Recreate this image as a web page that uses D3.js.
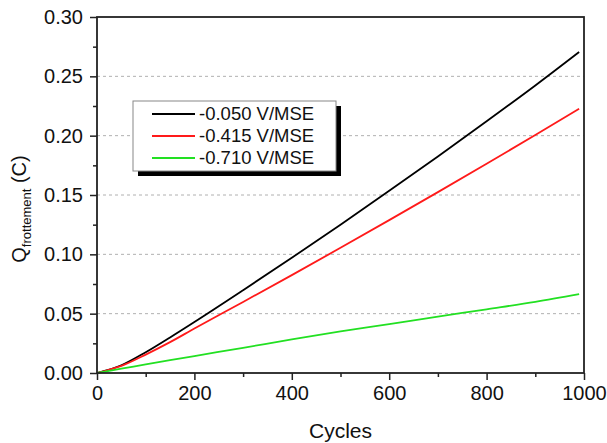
<!DOCTYPE html>
<html><head><meta charset="utf-8">
<script src="https://cdn.jsdelivr.net/npm/d3@7"></script>
<style>html,body{margin:0;padding:0;background:#fff;}svg{display:block;font-family:"Liberation Sans",Arial,sans-serif;}</style>
</head><body>
<script>
const cycles = [0, 50, 100, 150, 200, 300, 400, 500, 600, 700, 800, 900, 990];
const valuesBlack = [0, 0.0065, 0.0175, 0.030, 0.043, 0.0698, 0.0971, 0.1250, 0.1535, 0.1825, 0.2121, 0.2423, 0.2705];
const valuesRed = [0, 0.006, 0.0155, 0.026, 0.0375, 0.0599, 0.0825, 0.1055, 0.1288, 0.1524, 0.1763, 0.2006, 0.2227];
const valuesGreen = [0, 0.0036, 0.0072, 0.0108, 0.0143, 0.0212, 0.0283, 0.0350, 0.0412, 0.0475, 0.0537, 0.0600, 0.0665];
const seriesNames = ["-0.050 V/MSE", "-0.415 V/MSE", "-0.710 V/MSE"];
const seriesColors = ["#000000", "#ff1a1a", "#22e022"];
const xTicks = [0, 200, 400, 600, 800, 1000];
const xMinorTicks = [100, 300, 500, 700, 900];
const yTicks = [0.00, 0.05, 0.10, 0.15, 0.20, 0.25, 0.30];
const yMinorTicks = [0.025, 0.075, 0.125, 0.175, 0.225, 0.275];

const W = 607, H = 443;
const m = {left: 97, right: 584, top: 17, bottom: 373};
const svg = d3.select("body").append("svg").attr("width", W).attr("height", H);
const x = d3.scaleLinear().domain([0, 1000]).range([m.left, m.right]);
const y = d3.scaleLinear().domain([0, 0.30]).range([m.bottom, m.top]);

// grid
svg.append("g").selectAll("line").data(yTicks.filter(v => v > 0 && v < 0.3)).join("line")
  .attr("x1", m.left).attr("x2", m.right).attr("y1", d => y(d)).attr("y2", d => y(d))
  .attr("stroke", "#b0b0b0").attr("stroke-width", 1).attr("stroke-dasharray", "3,3");

// series
const series = [valuesBlack, valuesRed, valuesGreen];
const line = d3.line().x(d => x(d[0])).y(d => y(d[1])).curve(d3.curveMonotoneX);
series.forEach((vals, i) => {
  svg.append("path").datum(cycles.map((c, j) => [c, vals[j]]))
    .attr("d", line).attr("fill", "none").attr("stroke", seriesColors[i]).attr("stroke-width", 1.8);
});

// axes
const fmtY = d3.format(".2f");
const xAxis = svg.append("g").attr("transform", `translate(0,${m.bottom})`)
  .call(d3.axisBottom(x).tickValues(xTicks).tickSize(7).tickPadding(6).tickFormat(d3.format("d")));
const xMinor = svg.append("g").attr("transform", `translate(0,${m.bottom})`)
  .call(d3.axisBottom(x).tickValues(xMinorTicks).tickSize(4).tickFormat(""));
const yAxis = svg.append("g").attr("transform", `translate(${m.left},0)`)
  .call(d3.axisLeft(y).tickValues(yTicks).tickSize(7).tickPadding(7).tickFormat(fmtY));
const yMinor = svg.append("g").attr("transform", `translate(${m.left},0)`)
  .call(d3.axisLeft(y).tickValues(yMinorTicks).tickSize(4).tickFormat(""));
[xAxis, xMinor, yAxis, yMinor].forEach(g => {
  g.select(".domain").remove();
  g.selectAll("line").attr("stroke", "#222").attr("stroke-width", 1.5);
  g.selectAll("text").attr("fill", "#111").style("font-size", "20px").style("font-family", "Liberation Sans, Arial, sans-serif");
});
// frame
svg.append("rect").attr("x", m.left).attr("y", m.top).attr("width", m.right - m.left).attr("height", m.bottom - m.top)
  .attr("fill", "none").attr("stroke", "#222").attr("stroke-width", 1.8);

// axis titles
svg.append("text").attr("x", (m.left + m.right) / 2).attr("y", 438).attr("text-anchor", "middle")
  .style("font-size", "21px").attr("fill", "#111").text("Cycles");
const yt = svg.append("text").attr("transform", "translate(26,209) rotate(-90)").attr("text-anchor", "middle")
  .style("font-size", "20px").attr("fill", "#111");
yt.append("tspan").text("Q");
yt.append("tspan").attr("dy", 5).style("font-size", "13px").text("frottement");
yt.append("tspan").attr("dy", -5).text(" (C)");

// legend
const lg = {x: 133, y: 101, w: 203, h: 70};
svg.append("rect").attr("x", lg.x + 5).attr("y", lg.y + 5).attr("width", lg.w).attr("height", lg.h).attr("fill", "#000");
svg.append("rect").attr("x", lg.x).attr("y", lg.y).attr("width", lg.w).attr("height", lg.h)
  .attr("fill", "#fff").attr("stroke", "#888").attr("stroke-width", 1);
seriesNames.forEach((n, i) => {
  const cy = 114 + i * 22;
  svg.append("line").attr("x1", 152).attr("x2", 195).attr("y1", cy).attr("y2", cy)
    .attr("stroke", seriesColors[i]).attr("stroke-width", 1.8);
  svg.append("text").attr("x", 199).attr("y", cy + 6).style("font-size", "18.5px").attr("fill", "#111").text(n);
});
</script>
</body></html>
